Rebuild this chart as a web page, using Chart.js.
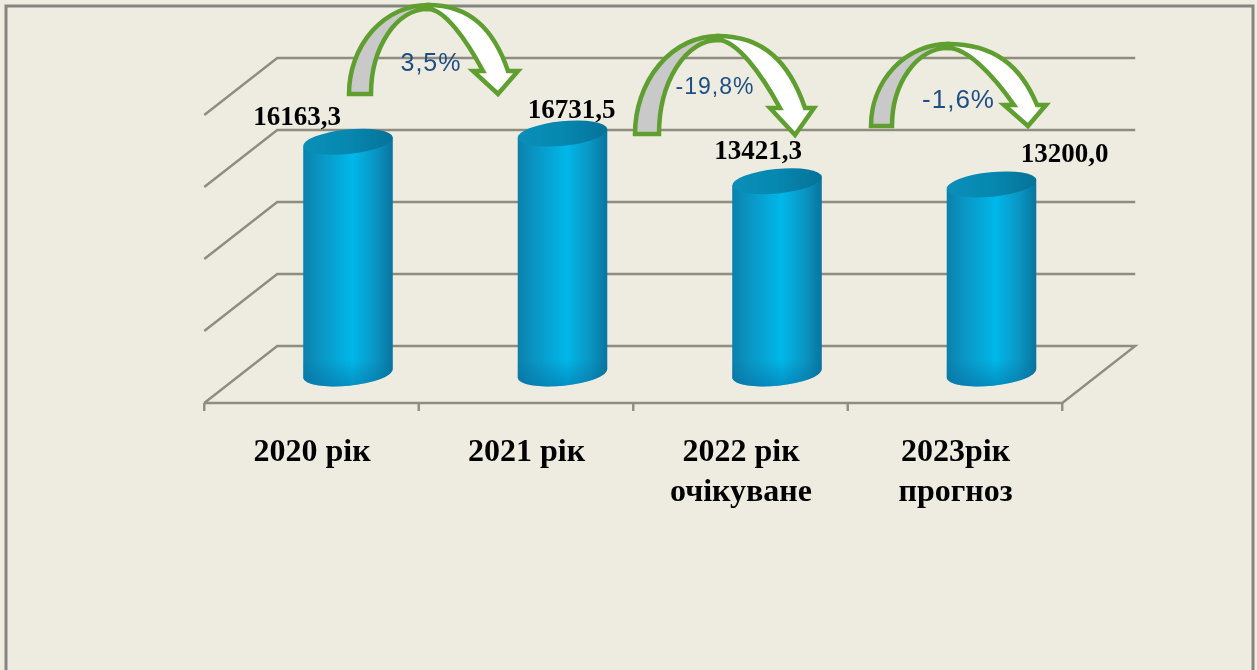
<!DOCTYPE html>
<html>
<head>
<meta charset="utf-8">
<title>Chart</title>
<style>html,body{margin:0;padding:0;background:#eeece1;overflow:hidden}#w{position:relative;width:1257px;height:670px}</style>
<script src="https://cdn.jsdelivr.net/npm/chart.js@4"></script>
</head>
<body>
<div id="w"><canvas id="c" width="1257" height="670"></canvas></div>
<script>
const categories = [['2020 рік'], ['2021 рік'], ['2022 рік', 'очікуване'], ['2023рік', 'прогноз']];
const values = [16163.3, 16731.5, 13421.3, 13200.0];
const valueLabels = ['16163,3', '16731,5', '13421,3', '13200,0'];
const changeLabels = ['3,5%', '-19,8%', '-1,6%'];

const BG = '#eeece1', GRID = '#8f8c80', GREEN = '#5f9f2f', TXT = '#1f4e85';
const DEPTH_X = 36.5, DEPTH_Y = 28.5;

function cylinder(ctx, b) {
  const rx = b.width / 2, ry = 12.3, rot = -0.1, cx = b.x, top = b.y, base = b.base - 1;
  const L = cx - rx, R = cx + rx;
  const g = ctx.createLinearGradient(L, 0, R, 0);
  g.addColorStop(0, '#0b80ac'); g.addColorStop(0.18, '#0a94c2'); g.addColorStop(0.55, '#00b8ea');
  g.addColorStop(0.8, '#0a96c4'); g.addColorStop(1, '#08749e');
  ctx.save();
  ctx.beginPath();
  ctx.ellipse(cx, base, rx, ry, rot, Math.PI, 0, true);
  ctx.lineTo(cx + rx * Math.cos(rot), top + rx * Math.sin(rot));
  ctx.lineTo(cx - rx * Math.cos(rot), top - rx * Math.sin(rot));
  ctx.closePath();
  ctx.fillStyle = g; ctx.fill();
  const v = ctx.createLinearGradient(0, base - 14, 0, base + 13);
  v.addColorStop(0, 'rgba(6,110,155,0)'); v.addColorStop(1, 'rgba(6,110,165,.55)');
  ctx.fillStyle = v; ctx.fill();
  const t = ctx.createLinearGradient(L, 0, R, 0);
  t.addColorStop(0, '#0a8fb8'); t.addColorStop(0.5, '#0688b0'); t.addColorStop(1, '#067299');
  ctx.beginPath();
  ctx.ellipse(cx, top, rx, ry, rot, 0, Math.PI * 2);
  ctx.fillStyle = t; ctx.fill();
  ctx.restore();
}

function curvedArrow(ctx, a) {
  const q = Math.PI, dy = a.wy - a.ay, dO = a.nr - a.ax, dI = a.nl - a.ax;
  ctx.save();
  ctx.lineWidth = 4.5; ctx.strokeStyle = GREEN; ctx.lineJoin = 'miter';
  // rising grey part
  ctx.beginPath();
  ctx.ellipse(a.ax, a.fy, a.ax - a.x0, a.fy - a.ay, 0, q, 1.5 * q);
  ctx.ellipse(a.ax, a.fy, a.ax - a.x1, a.fy - a.ay - 4, 0, 1.5 * q, q, true);
  ctx.closePath();
  ctx.fillStyle = '#c9c9c9'; ctx.fill(); ctx.stroke();
  // falling white part with head
  ctx.beginPath();
  ctx.moveTo(a.ax, a.ay);
  ctx.bezierCurveTo(a.ax + 0.52 * dO, a.ay, a.ax + 0.82 * dO, a.ay + 0.36 * dy, a.nr, a.wy);
  ctx.lineTo(a.wr, a.wy); ctx.lineTo(a.tx, a.ty); ctx.lineTo(a.wl, a.wy); ctx.lineTo(a.nl, a.wy);
  ctx.bezierCurveTo(a.ax + 0.7 * dI, a.ay + 4 + 0.5 * (dy - 4), a.ax + 0.3 * dI, a.ay + 4, a.ax, a.ay + 4);
  ctx.closePath();
  ctx.fillStyle = '#ffffff'; ctx.fill(); ctx.stroke();
  ctx.restore();
}

const scene = {
  id: 'scene',
  beforeDraw(chart) {
    const { ctx, width, height } = chart;
    ctx.save();
    ctx.fillStyle = BG; ctx.fillRect(0, 0, width, height);
    ctx.strokeStyle = '#85857f'; ctx.lineWidth = 3;
    ctx.beginPath(); ctx.moveTo(6, height + 5); ctx.lineTo(6, 6); ctx.lineTo(1253, 6); ctx.lineTo(1253, height + 5); ctx.stroke();
    // pseudo-3D walls, taken from the scales
    const x = chart.scales.x, y = chart.scales.y;
    const l = x.left, r = x.right;
    ctx.strokeStyle = GRID; ctx.lineWidth = 2.4;
    y.ticks.forEach(t => {
      const p = y.getPixelForValue(t.value);
      ctx.beginPath();
      ctx.moveTo(l - DEPTH_X, p + DEPTH_Y);
      ctx.lineTo(l + DEPTH_X, p - DEPTH_Y);
      ctx.lineTo(r + DEPTH_X, p - DEPTH_Y);
      if (t.value === 0) { ctx.lineTo(r - DEPTH_X, p + DEPTH_Y); ctx.lineTo(l - DEPTH_X, p + DEPTH_Y); }
      ctx.stroke();
    });
    const p0 = y.getPixelForValue(0) + DEPTH_Y, band = (r - l) / categories.length;
    for (let i = 0; i <= categories.length; i++) {
      const tx = l - DEPTH_X + i * band;
      ctx.beginPath(); ctx.moveTo(tx, p0); ctx.lineTo(tx, p0 + 8); ctx.stroke();
    }
    ctx.restore();
  },
  beforeDatasetDraw(chart, args) {
    chart.getDatasetMeta(args.index).data.forEach(b => cylinder(chart.ctx, b));
    return false;
  },
  afterDatasetsDraw(chart) {
    const ctx = chart.ctx, bars = chart.getDatasetMeta(0).data;
    const labelShift = [[-51, -24], [9, -23], [-19, -29], [73, -29]];
    ctx.save();
    ctx.fillStyle = '#000'; ctx.font = 'bold 27px "Liberation Serif"';
    ctx.textAlign = 'center'; ctx.textBaseline = 'middle';
    bars.forEach((b, i) => ctx.fillText(valueLabels[i], b.x + labelShift[i][0], b.y + labelShift[i][1]));
    const arrows = [
      { x0: 349, x1: 371, fy: 94, ax: 428, ay: 5, nl: 483, nr: 508, wl: 473, wr: 518, wy: 71, tx: 498, ty: 94 },
      { x0: 635, x1: 659, fy: 134, ax: 718, ay: 36, nl: 780, nr: 805, wl: 770, wr: 814, wy: 108, tx: 795, ty: 135 },
      { x0: 871, x1: 892, fy: 126, ax: 948, ay: 44, nl: 1014, nr: 1037, wl: 1004, wr: 1046, wy: 105, tx: 1028, ty: 126 }
    ];
    arrows.forEach(a => curvedArrow(ctx, a));
    const pos = [[431, 64], [715, 88], [958.5, 101]], sizes = [25, 23, 26];
    ctx.fillStyle = TXT;
    ctx.letterSpacing = '1px';
    changeLabels.forEach((t, i) => {
      ctx.font = sizes[i] + 'px "Liberation Sans"';
      ctx.fillText(t, pos[i][0], pos[i][1]);
    });
    ctx.restore();
  }
};

new Chart(document.getElementById('c'), {
  type: 'bar',
  data: {
    labels: categories,
    datasets: [{ label: 'Значення', data: values, backgroundColor: '#00b5e6', barThickness: 90 }]
  },
  options: {
    responsive: false, animation: false,
    layout: { padding: { left: 240.75, right: 158.25, top: 86.5, bottom: 0 } },
    plugins: { legend: { display: false }, tooltip: { enabled: false }, title: { display: false } },
    scales: {
      x: {
        grid: { display: false }, border: { display: false },
        afterFit(s) { s.height = 295.5; },
        ticks: { labelOffset: -36, padding: 50, color: '#000', maxRotation: 0, autoSkip: false,
          font: { family: '"Liberation Serif"', weight: 'bold', size: 32, lineHeight: 1.26 } }
      },
      y: { display: false, min: 0, max: 20000, ticks: { stepSize: 5000 }, grid: { display: false } }
    }
  },
  plugins: [scene]
});
</script>
</body>
</html>
